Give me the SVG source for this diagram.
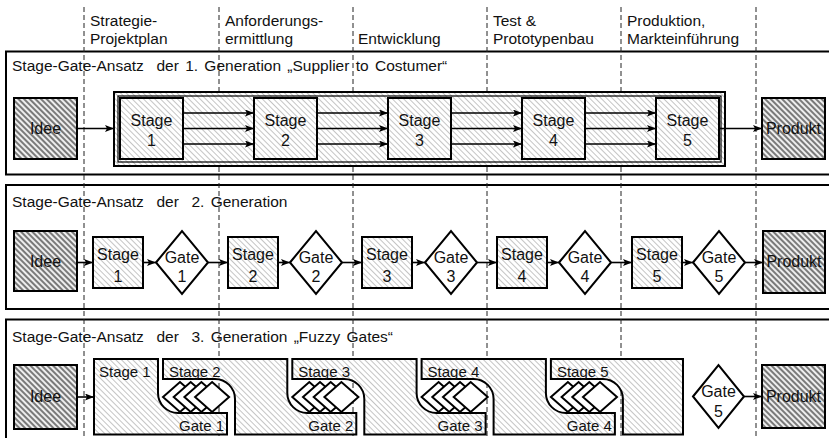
<svg xmlns="http://www.w3.org/2000/svg" width="829" height="438" viewBox="0 0 829 438">
<defs>
<pattern id="hd" width="4" height="4" patternUnits="userSpaceOnUse" patternTransform="rotate(45)">
<rect width="4" height="4" fill="#eeeeee"/>
<rect width="4" height="2" fill="#7a7a7a"/>
</pattern>
<pattern id="hl" width="4" height="4" patternUnits="userSpaceOnUse" patternTransform="rotate(45)">
<rect width="4" height="4" fill="#ffffff"/>
<rect width="4" height="1" fill="#c4c4c4"/>
</pattern>
<marker id="ah" markerWidth="9" markerHeight="7" refX="9" refY="3.5" orient="auto" markerUnits="userSpaceOnUse">
<path d="M0,0 L9,3.5 L0,7 L2,3.5 Z" fill="#000"/>
</marker>
<g id="fz">
<polygon class="gate" points="163,397 180,382 197,397 180,412"/>
<polygon class="gate" points="173.7,397 190.7,382 207.7,397 190.7,412"/>
<polygon class="gate" points="184.4,397 201.4,382 218.4,397 201.4,412"/>
<polygon class="gate" points="195.1,397 212.1,382 229.1,397 212.1,412"/>
</g>
</defs>
<style>
text{font-family:"Liberation Sans",Arial,sans-serif;fill:#111}
.t{font-size:15.5px}
.ti{font-size:15.5px;word-spacing:2px}
.l{font-size:16px;text-anchor:middle}
.s{font-size:15px}
.e{font-size:15px;text-anchor:end}
.frame{fill:#fff;stroke:#000;stroke-width:2}
.dash{stroke:#222;stroke-width:1;stroke-dasharray:5 3;fill:none}
.dark{fill:url(#hd);stroke:#000;stroke-width:2}
.light{fill:url(#hl);stroke:#000;stroke-width:2}
.gate{fill:#fff;stroke:#000;stroke-width:2;stroke-linejoin:miter}
.arr{stroke:#000;stroke-width:1.6;fill:none;marker-end:url(#ah)}
</style>
<rect width="829" height="438" fill="#fff"/>

<g id="frames">
<rect class="frame" x="6" y="51.5" width="900" height="123"/>
<rect class="frame" x="6" y="185" width="900" height="124"/>
<rect class="frame" x="6" y="319.5" width="900" height="200"/>
</g>

<g id="phases">
<line class="dash" x1="84" y1="7" x2="84" y2="438"/>
<line class="dash" x1="219" y1="7" x2="219" y2="438"/>
<line class="dash" x1="353" y1="7" x2="353" y2="438"/>
<line class="dash" x1="487" y1="7" x2="487" y2="438"/>
<line class="dash" x1="621" y1="7" x2="621" y2="438"/>
<line class="dash" x1="756" y1="7" x2="756" y2="438"/>
<text class="t" x="90" y="26">Strategie-</text>
<text class="t" x="90" y="44">Projektplan</text>
<text class="t" x="225" y="26">Anforderungs-</text>
<text class="t" x="225" y="44">ermittlung</text>
<text class="t" x="358" y="44">Entwicklung</text>
<text class="t" x="493" y="26">Test &amp;</text>
<text class="t" x="493" y="44">Prototypenbau</text>
<text class="t" x="627" y="26">Produktion,</text>
<text class="t" x="627" y="44">Markteinführung</text>
</g>

<g id="titles">
<text class="ti" x="12" y="71" xml:space="preserve">Stage-Gate-Ansatz  der 1. Generation „Supplier to Costumer“</text>
<text class="ti" x="12" y="207" xml:space="preserve">Stage-Gate-Ansatz  der  2. Generation</text>
<text class="ti" x="12" y="342" xml:space="preserve">Stage-Gate-Ansatz  der  3. Generation „Fuzzy Gates“</text>
</g>

<!-- Generation 1 -->
<g id="g1-idee"><rect class="dark" x="14" y="98" width="63" height="61"/><text class="l" x="45.5" y="134">Idee</text></g>
<g id="g1-container"><rect class="light" x="114" y="92" width="611" height="74"/><rect x="118" y="96" width="603" height="66" fill="none" stroke="#000" stroke-width="1.2"/></g>
<g id="g1-stage1"><rect class="light" x="120" y="98" width="63" height="61"/><text class="l" x="151.5" y="126">Stage</text><text class="l" x="151.5" y="146">1</text></g>
<g id="g1-stage2"><rect class="light" x="254" y="98" width="63" height="61"/><text class="l" x="285.5" y="126">Stage</text><text class="l" x="285.5" y="146">2</text></g>
<g id="g1-stage3"><rect class="light" x="388" y="98" width="63" height="61"/><text class="l" x="419.5" y="126">Stage</text><text class="l" x="419.5" y="146">3</text></g>
<g id="g1-stage4"><rect class="light" x="522" y="98" width="63" height="61"/><text class="l" x="553.5" y="126">Stage</text><text class="l" x="553.5" y="146">4</text></g>
<g id="g1-stage5"><rect class="light" x="656" y="98" width="63" height="61"/><text class="l" x="687.5" y="126">Stage</text><text class="l" x="687.5" y="146">5</text></g>
<g id="g1-produkt"><rect class="dark" x="762" y="98" width="63" height="61"/><text class="l" x="793.5" y="134">Produkt</text></g>

<!-- Generation 2 -->
<g id="g2-idee"><rect class="dark" x="14" y="231" width="63" height="60"/><text class="l" x="45.5" y="266.5">Idee</text></g>
<g id="g2-stage1"><rect class="light" x="93" y="237" width="50" height="51"/><text class="l" x="118" y="260">Stage</text><text class="l" x="118" y="281.5">1</text></g>
<g id="g2-gate1"><polygon class="gate" points="156,262.5 182,231 208,262.5 182,294"/><text class="l" x="182" y="263">Gate</text><text class="l" x="182" y="282">1</text></g>
<g id="g2-stage2"><rect class="light" x="228" y="237" width="50" height="51"/><text class="l" x="253" y="260">Stage</text><text class="l" x="253" y="281.5">2</text></g>
<g id="g2-gate2"><polygon class="gate" points="290,262.5 316,231 342,262.5 316,294"/><text class="l" x="316" y="263">Gate</text><text class="l" x="316" y="282">2</text></g>
<g id="g2-stage3"><rect class="light" x="362" y="237" width="50" height="51"/><text class="l" x="387" y="260">Stage</text><text class="l" x="387" y="281.5">3</text></g>
<g id="g2-gate3"><polygon class="gate" points="425,262.5 451,231 477,262.5 451,294"/><text class="l" x="451" y="263">Gate</text><text class="l" x="451" y="282">3</text></g>
<g id="g2-stage4"><rect class="light" x="497" y="237" width="50" height="51"/><text class="l" x="522" y="260">Stage</text><text class="l" x="522" y="281.5">4</text></g>
<g id="g2-gate4"><polygon class="gate" points="559,262.5 585,231 611,262.5 585,294"/><text class="l" x="585" y="263">Gate</text><text class="l" x="585" y="282">4</text></g>
<g id="g2-stage5"><rect class="light" x="632" y="237" width="50" height="51"/><text class="l" x="657" y="260">Stage</text><text class="l" x="657" y="281.5">5</text></g>
<g id="g2-gate5"><polygon class="gate" points="693,262.5 719,231 745,262.5 719,294"/><text class="l" x="719" y="263">Gate</text><text class="l" x="719" y="282">5</text></g>
<g id="g2-produkt"><rect class="dark" x="763" y="231" width="62" height="62"/><text class="l" x="794" y="267">Produkt</text></g>

<!-- Generation 3 -->
<g id="g3-idee"><rect class="dark" x="14" y="365" width="63" height="64"/><text class="l" x="45.5" y="402">Idee</text></g>
<g id="g3-stage1"><path class="light" d="M94,359 H158 V393 A20,20 0 0 0 178,413 H227 V434.5 H94 Z"/><text class="s" x="99" y="377">Stage 1</text><text class="e" x="224" y="431">Gate 1</text></g>
<g id="g3-stage2"><path class="light" d="M163,359 H287.3 V393 A20,20 0 0 0 307.3,413 H356.3 V434.5 H235 V399 A20,20 0 0 0 215,379 H163 Z"/><text class="s" x="169" y="377">Stage 2</text><text class="e" x="353.3" y="431">Gate 2</text></g>
<g id="g3-stage3"><path class="light" d="M292.3,359 H416.6 V393 A20,20 0 0 0 436.6,413 H485.6 V434.5 H364.3 V399 A20,20 0 0 0 344.3,379 H292.3 Z"/><text class="s" x="298.3" y="377">Stage 3</text><text class="e" x="482.6" y="431">Gate 3</text></g>
<g id="g3-stage4"><path class="light" d="M421.6,359 H545.9 V393 A20,20 0 0 0 565.9,413 H614.9 V434.5 H493.6 V399 A20,20 0 0 0 473.6,379 H421.6 Z"/><text class="s" x="427.6" y="377">Stage 4</text><text class="e" x="611.9" y="431">Gate 4</text></g>
<g id="g3-stage5"><path class="light" d="M550.9,359 H683 V434.5 H622.9 V399 A20,20 0 0 0 602.9,379 H550.9 Z"/><text class="s" x="556.9" y="377">Stage 5</text></g>
<g id="g3-fuzzy1"><use href="#fz"/></g>
<g id="g3-fuzzy2"><use href="#fz" transform="translate(129.3,0)"/></g>
<g id="g3-fuzzy3"><use href="#fz" transform="translate(258.6,0)"/></g>
<g id="g3-fuzzy4"><use href="#fz" transform="translate(387.9,0)"/></g>
<g id="g3-gate5"><polygon class="gate" points="693,396.5 718.5,365 744,396.5 718.5,428"/><text class="l" x="718.5" y="397">Gate</text><text class="l" x="718.5" y="417">5</text></g>
<g id="g3-produkt"><rect class="dark" x="762" y="365" width="63" height="63"/><text class="l" x="793.5" y="402">Produkt</text></g>

<g id="connectors">
<line class="arr" x1="77" y1="128.5" x2="114" y2="128.5"/>
<line class="arr" x1="183" y1="113" x2="254" y2="113"/>
<line class="arr" x1="183" y1="128.5" x2="254" y2="128.5"/>
<line class="arr" x1="183" y1="144" x2="254" y2="144"/>
<line class="arr" x1="317" y1="113" x2="388" y2="113"/>
<line class="arr" x1="317" y1="128.5" x2="388" y2="128.5"/>
<line class="arr" x1="317" y1="144" x2="388" y2="144"/>
<line class="arr" x1="451" y1="113" x2="522" y2="113"/>
<line class="arr" x1="451" y1="128.5" x2="522" y2="128.5"/>
<line class="arr" x1="451" y1="144" x2="522" y2="144"/>
<line class="arr" x1="585" y1="113" x2="656" y2="113"/>
<line class="arr" x1="585" y1="128.5" x2="656" y2="128.5"/>
<line class="arr" x1="585" y1="144" x2="656" y2="144"/>
<line class="arr" x1="719" y1="128.5" x2="762" y2="128.5"/>

<line class="arr" x1="77" y1="262.5" x2="93" y2="262.5"/>
<line class="arr" x1="143" y1="262.5" x2="156" y2="262.5"/>
<line class="arr" x1="208" y1="262.5" x2="228" y2="262.5"/>
<line class="arr" x1="278" y1="262.5" x2="290" y2="262.5"/>
<line class="arr" x1="342" y1="262.5" x2="362" y2="262.5"/>
<line class="arr" x1="412" y1="262.5" x2="425" y2="262.5"/>
<line class="arr" x1="477" y1="262.5" x2="497" y2="262.5"/>
<line class="arr" x1="547" y1="262.5" x2="559" y2="262.5"/>
<line class="arr" x1="611" y1="262.5" x2="632" y2="262.5"/>
<line class="arr" x1="682" y1="262.5" x2="693" y2="262.5"/>
<line class="arr" x1="745" y1="262.5" x2="763" y2="262.5"/>

<line class="arr" x1="77" y1="397" x2="94" y2="397"/>
<line class="arr" x1="744" y1="396.5" x2="762" y2="396.5"/>
</g>
</svg>
